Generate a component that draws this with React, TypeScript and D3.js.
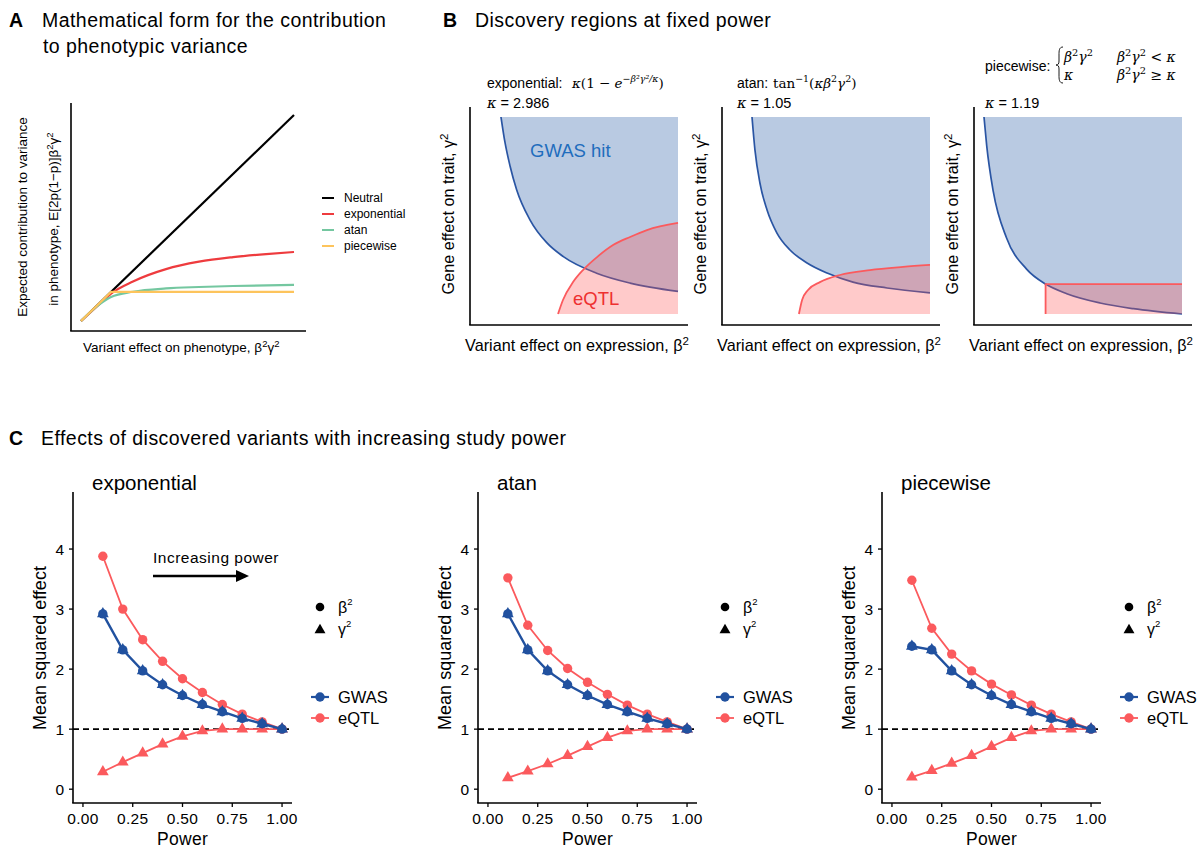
import React from 'react';
import * as d3 from 'd3';

const SANS = '"Liberation Sans", Arial, Helvetica, sans-serif';
const MATH = '"DejaVu Serif", "Liberation Serif", serif';

// ---------- Panel A data (x = β²γ², y = contribution) ----------
const aNeutral: [number, number][] = [[0, 0], [10, 10]];
const aExponential: [number, number][] = [[0, 0], [0.89, 0.84], [1.41, 1.33], [2.44, 1.92], [3.99, 2.52], [5.54, 2.88], [7.14, 3.1], [8.69, 3.25], [10, 3.35]];
const aAtan: [number, number][] = [[0, 0], [0.85, 0.8], [1.41, 1.17], [2.44, 1.42], [3.99, 1.58], [5.54, 1.65], [7.14, 1.7], [10, 1.75]];
const aPiecewise: [number, number][] = [[0, 0], [1.41, 1.41], [10, 1.41]];
const aSeriesNames = ['Neutral', 'exponential', 'atan', 'piecewise'];
const aSeriesColors = ['#000000', '#ee3b3e', '#74c7a0', '#fdc45c'];

// ---------- Panel B data (u = β², v = γ², normalised) ----------
const bExpGwas: [number, number][] = [[0.106, 1.0], [0.126, 0.872], [0.152, 0.75], [0.185, 0.631], [0.253, 0.477], [0.337, 0.362], [0.421, 0.291], [0.589, 0.207], [0.758, 0.157], [1.0, 0.115]];
const bExpEqtl: [number, number][] = [[0.394, 0], [0.419, 0.071], [0.47, 0.162], [0.52, 0.223], [0.591, 0.289], [0.672, 0.35], [0.758, 0.391], [0.843, 0.426], [1.0, 0.462]];
const bAtanGwas: [number, number][] = [[0.101, 1.0], [0.116, 0.832], [0.141, 0.665], [0.177, 0.528], [0.227, 0.411], [0.293, 0.325], [0.379, 0.259], [0.48, 0.208], [0.611, 0.162], [0.783, 0.132], [1.0, 0.107]];
const bAtanEqtl: [number, number][] = [[0.338, 0], [0.354, 0.071], [0.384, 0.122], [0.444, 0.162], [0.545, 0.198], [0.697, 0.223], [0.864, 0.239], [1.0, 0.249]];
const bPwGwas: [number, number][] = [[0.0, 1.0], [0.0135, 0.856], [0.047, 0.621], [0.114, 0.386], [0.215, 0.228], [0.311, 0.152], [0.418, 0.103], [0.586, 0.056], [0.754, 0.027], [1.0, 0.0]];
const bPwEqtl: [number, number][] = [[0.311, 0], [0.311, 0.152], [1.0, 0.152]];

// ---------- Panel C data ----------
const powerLevels = [0.1, 0.2, 0.3, 0.4, 0.5, 0.6, 0.7, 0.8, 0.9, 1.0];
const expGwas = [2.92, 2.32, 1.97, 1.74, 1.56, 1.41, 1.29, 1.18, 1.09, 1.0];
const expEqtlBeta = [3.88, 3.0, 2.49, 2.13, 1.84, 1.61, 1.41, 1.25, 1.12, 1.0];
const expEqtlGamma = [0.29, 0.45, 0.6, 0.75, 0.88, 0.97, 1.0, 1.0, 1.0, 1.0];
const atanGwas = [2.92, 2.32, 1.97, 1.74, 1.56, 1.41, 1.29, 1.18, 1.09, 1.0];
const atanEqtlBeta = [3.52, 2.73, 2.31, 2.01, 1.78, 1.58, 1.4, 1.25, 1.12, 1.0];
const atanEqtlGamma = [0.19, 0.3, 0.42, 0.56, 0.71, 0.86, 0.97, 1.0, 1.0, 1.0];
const pwGwas = [2.38, 2.32, 1.97, 1.74, 1.56, 1.41, 1.29, 1.18, 1.09, 1.0];
const pwEqtlBeta = [3.48, 2.68, 2.25, 1.97, 1.75, 1.57, 1.4, 1.25, 1.12, 1.0];
const pwEqtlGamma = [0.2, 0.31, 0.43, 0.56, 0.71, 0.86, 0.97, 1.0, 1.0, 1.0];
const cXTicks = [0, 0.25, 0.5, 0.75, 1.0];
const cYTicks = [0, 1, 2, 3, 4];

const GWAS_BLUE = '#21519f';
const EQTL_RED = '#fb5a5d';

// math text helper: items = [text, isSuperscript, upright]
function mathSpans(items: [string, boolean?, boolean?][], size: number) {
  let raised = false;
  const lift = size * 0.42;
  return items.map(([t, isSup, upright], i) => {
    let dy: number | undefined;
    if (isSup && !raised) { dy = -lift; raised = true; }
    else if (!isSup && raised) { dy = lift; raised = false; }
    return (
      <tspan key={i} dy={dy} fontSize={isSup ? size * 0.7 : size} fontStyle={upright ? 'normal' : 'italic'}>{t}</tspan>
    );
  });
}

function PanelA() {
  const x = d3.scaleLinear().domain([0, 10]).range([81, 294]);
  const y = d3.scaleLinear().domain([0, 10]).range([321, 115]);
  const smooth = d3.line<[number, number]>().x(d => x(d[0])).y(d => y(d[1])).curve(d3.curveMonotoneX);
  const straight = d3.line<[number, number]>().x(d => x(d[0])).y(d => y(d[1]));
  const series = [aNeutral, aExponential, aAtan, aPiecewise];
  return (
    <g>
      <text x={9} y={27} fontSize={19.5} fontWeight="bold">A</text>
      <text x={42} y={27} fontSize={19.5} letterSpacing={0.45}>Mathematical form for the contribution</text>
      <text x={43} y={53} fontSize={19.5} letterSpacing={0.45}>to phenotypic variance</text>
      <line x1={71} x2={71} y1={103} y2={331} stroke="#000" strokeWidth={1.6} />
      <line x1={70.2} x2={306} y1={331} y2={331} stroke="#000" strokeWidth={1.6} />
      {series.map((s, i) => (
        <path key={i} d={(i === 0 || i === 3 ? straight(s) : smooth(s)) || ''} fill="none" stroke={aSeriesColors[i]} strokeWidth={2.2} />
      ))}
      {aSeriesNames.map((n, i) => (
        <g key={n}>
          <line x1={322} x2={334} y1={198 + i * 16} y2={198 + i * 16} stroke={aSeriesColors[i]} strokeWidth={2} />
          <text x={344} y={202 + i * 16} fontSize={12}>{n}</text>
        </g>
      ))}
      <text transform="translate(27,217) rotate(-90)" textAnchor="middle" fontSize={13.5}>Expected contribution to variance</text>
      <text transform="translate(58,219) rotate(-90)" textAnchor="middle" fontSize={13.5}>
        in phenotype, E[2p(1−p)]β<tspan dy={-5.5} fontSize={9.5}>2</tspan><tspan dy={5.5}>γ</tspan><tspan dy={-5.5} fontSize={9.5}>2</tspan>
      </text>
      <text x={83} y={352} fontSize={13.5}>
        Variant effect on phenotype, β<tspan dy={-5.5} fontSize={9.5}>2</tspan><tspan dy={5.5}>γ</tspan><tspan dy={-5.5} fontSize={9.5}>2</tspan>
      </text>
    </g>
  );
}

function DiscoveryPlot({ ox, gwas, eqtl, step, header, labels }: any) {
  const x = d3.scaleLinear().domain([0, 1]).range([ox + 10, ox + 208]);
  const y = d3.scaleLinear().domain([0, 1]).range([314, 117]);
  const curve = step ? d3.curveLinear : d3.curveMonotoneX;
  const blueArea = d3.area<[number, number]>().x(d => x(d[0])).y0(y(1)).y1(d => y(d[1])).curve(d3.curveMonotoneX);
  const blueLine = d3.line<[number, number]>().x(d => x(d[0])).y(d => y(d[1])).curve(d3.curveMonotoneX);
  const redArea = d3.area<[number, number]>().x(d => x(d[0])).y0(y(0)).y1(d => y(d[1])).curve(curve);
  const redLine = d3.line<[number, number]>().x(d => x(d[0])).y(d => y(d[1])).curve(curve);
  const redFillPts = step ? eqtl.slice(1) : eqtl;
  return (
    <g>
      {header}
      <path d={blueArea(gwas) || ''} fill="#b9cae2" />
      <path d={blueLine(gwas) || ''} fill="none" stroke="#2a55a3" strokeWidth={1.7} />
      <path d={redArea(redFillPts) || ''} fill="rgba(255,80,80,0.3)" />
      <path d={redLine(eqtl) || ''} fill="none" stroke="#fb5a5d" strokeWidth={1.8} />
      <line x1={ox} x2={ox} y1={107} y2={325} stroke="#000" strokeWidth={1.6} />
      <line x1={ox - 0.8} x2={ox + 218} y1={325} y2={325} stroke="#000" strokeWidth={1.6} />
      {labels && <text x={530} y={157} fontSize={18.5} fill="#1f6dbd">GWAS hit</text>}
      {labels && <text x={573} y={305} fontSize={18.5} fill="#ee3030">eQTL</text>}
      <text transform={`translate(${ox - 16},214) rotate(-90)`} textAnchor="middle" fontSize={16.2}>
        Gene effect on trait, γ<tspan dy={-6.5} fontSize={11.5}>2</tspan>
      </text>
      <text x={ox + 107} y={351} textAnchor="middle" fontSize={16.2}>
        Variant effect on expression, β<tspan dy={-6.5} fontSize={11.5}>2</tspan>
      </text>
    </g>
  );
}

function PowerPlot({ ox, title, gwas, eqtlBeta, eqtlGamma, arrow }: any) {
  const x = d3.scaleLinear().domain([-0.05, 1.05]).range([ox, ox + 219]);
  const y = d3.scaleLinear().domain([-0.23, 4.95]).range([803, 492]);
  const line = d3.line<number>().x((_, i) => x(powerLevels[i])).y(d => y(d));
  const tri = d3.symbol().type(d3.symbolTriangle).size(60)() || '';
  const triLeg = d3.symbol().type(d3.symbolTriangle).size(52)() || '';
  return (
    <g>
      <text x={ox + 19} y={490} fontSize={20.5}>{title}</text>
      <line x1={ox} x2={ox} y1={492} y2={803} stroke="#000" strokeWidth={1.6} />
      <line x1={ox - 0.8} x2={ox + 219} y1={803} y2={803} stroke="#000" strokeWidth={1.6} />
      {cYTicks.map(t => (
        <g key={t}>
          <line x1={ox - 4} x2={ox} y1={y(t)} y2={y(t)} stroke="#000" strokeWidth={1.3} />
          <text x={ox - 9} y={y(t) + 5.5} textAnchor="end" fontSize={15.5}>{t}</text>
        </g>
      ))}
      {cXTicks.map(t => (
        <g key={t}>
          <line x1={x(t)} x2={x(t)} y1={803} y2={807} stroke="#000" strokeWidth={1.3} />
          <text x={x(t)} y={824} textAnchor="middle" fontSize={15.5} letterSpacing={0.3}>{t.toFixed(2)}</text>
        </g>
      ))}
      <text x={x(0.5)} y={845} textAnchor="middle" fontSize={17.5} letterSpacing={0.3}>Power</text>
      <text transform={`translate(${ox - 27},648) rotate(-90)`} textAnchor="middle" fontSize={18}>Mean squared effect</text>
      <line x1={ox} x2={ox + 219} y1={y(1)} y2={y(1)} stroke="#000" strokeWidth={1.6} strokeDasharray="6,4" />
      <path d={line(eqtlBeta) || ''} fill="none" stroke={EQTL_RED} strokeWidth={1.8} />
      <path d={line(eqtlGamma) || ''} fill="none" stroke={EQTL_RED} strokeWidth={1.8} />
      {eqtlBeta.map((v: number, i: number) => <circle key={'eb' + i} cx={x(powerLevels[i])} cy={y(v)} r={4.7} fill={EQTL_RED} />)}
      {eqtlGamma.map((v: number, i: number) => <path key={'eg' + i} d={tri} transform={`translate(${x(powerLevels[i])},${y(v)})`} fill={EQTL_RED} />)}
      <path d={line(gwas) || ''} fill="none" stroke={GWAS_BLUE} strokeWidth={2.4} />
      {gwas.map((v: number, i: number) => <circle key={'gb' + i} cx={x(powerLevels[i])} cy={y(v)} r={4.7} fill={GWAS_BLUE} />)}
      {gwas.map((v: number, i: number) => <path key={'gg' + i} d={tri} transform={`translate(${x(powerLevels[i])},${y(v)})`} fill={GWAS_BLUE} />)}
      {arrow && (
        <g>
          <text x={153} y={563} fontSize={15.5} letterSpacing={0.5}>Increasing power</text>
          <line x1={153} x2={239} y1={576} y2={576} stroke="#000" strokeWidth={2.5} />
          <path d="M236,570 L249,576 L236,582 Z" fill="#000" />
        </g>
      )}
      <circle cx={ox + 247} cy={607} r={4.3} fill="#000" />
      <text x={ox + 265} y={613} fontSize={16}>β<tspan dy={-8} fontSize={9.5}>2</tspan></text>
      <path d={triLeg} transform={`translate(${ox + 247},630)`} fill="#000" />
      <text x={ox + 265} y={635} fontSize={16}>γ<tspan dy={-8} fontSize={9.5}>2</tspan></text>
      <line x1={ox + 238} x2={ox + 256} y1={697} y2={697} stroke={GWAS_BLUE} strokeWidth={2.2} />
      <circle cx={ox + 247} cy={697} r={4.7} fill={GWAS_BLUE} />
      <text x={ox + 265} y={703} fontSize={16.5}>GWAS</text>
      <line x1={ox + 238} x2={ox + 256} y1={718} y2={718} stroke={EQTL_RED} strokeWidth={1.8} />
      <circle cx={ox + 247} cy={718} r={4.7} fill={EQTL_RED} />
      <text x={ox + 265} y={724} fontSize={16.5}>eQTL</text>
    </g>
  );
}

export default function App() {
  const expHeader = (
    <g>
      <text x={487} y={88} fontSize={14}>exponential:</text>
      <text x={572} y={88} fontFamily={MATH}>
        {mathSpans([['κ'], ['(1 − ', false, true], ['e'], ['−β²γ²/κ', true], [')', false, true]], 13.5)}
      </text>
      <text x={487} y={108} fontSize={14.5}><tspan fontFamily={MATH} fontStyle="italic">κ</tspan> = 2.986</text>
    </g>
  );
  const atanHeader = (
    <g>
      <text x={737} y={88} fontSize={14}>atan:</text>
      <text x={773} y={88} fontFamily={MATH}>
        {mathSpans([['tan', false, true], ['−1', true, true], ['(', false, true], ['κβ'], ['2', true, true], ['γ'], ['2', true, true], [')', false, true]], 13.5)}
      </text>
      <text x={737} y={108} fontSize={14.5}><tspan fontFamily={MATH} fontStyle="italic">κ</tspan> = 1.05</text>
    </g>
  );
  const pwHeader = (
    <g>
      <text x={985} y={71} fontSize={14}>piecewise:</text>
      <path d="M1063,47 C1059,47 1059,51 1059,55 L1059,61 C1059,64 1058,65 1056,65 C1058,65 1059,66 1059,69 L1059,75 C1059,79 1059,83 1063,83" fill="none" stroke="#000" strokeWidth={0.9} />
      <text x={1064} y={62} fontFamily={MATH}>{mathSpans([['β'], ['2', true, true], ['γ'], ['2', true, true]], 14)}</text>
      <text x={1117} y={62} fontFamily={MATH}>{mathSpans([['β'], ['2', true, true], ['γ'], ['2', true, true], [' < ', false, true], ['κ']], 14)}</text>
      <text x={1064} y={80} fontFamily={MATH}>{mathSpans([['κ']], 14)}</text>
      <text x={1117} y={80} fontFamily={MATH}>{mathSpans([['β'], ['2', true, true], ['γ'], ['2', true, true], [' ≥ ', false, true], ['κ']], 14)}</text>
      <text x={985} y={108} fontSize={14.5}><tspan fontFamily={MATH} fontStyle="italic">κ</tspan> = 1.19</text>
    </g>
  );
  return (
    <svg width={1198} height={848} style={{ position: 'absolute', left: 0, top: 0 }} fontFamily={SANS}>
      <rect width={1198} height={848} fill="#fff" />
      <PanelA />
      <text x={443} y={27} fontSize={19.5} fontWeight="bold">B</text>
      <text x={475} y={27} fontSize={19.5} letterSpacing={0.45}>Discovery regions at fixed power</text>
      <DiscoveryPlot ox={470} gwas={bExpGwas} eqtl={bExpEqtl} header={expHeader} labels />
      <DiscoveryPlot ox={722} gwas={bAtanGwas} eqtl={bAtanEqtl} header={atanHeader} />
      <DiscoveryPlot ox={974} gwas={bPwGwas} eqtl={bPwEqtl} step header={pwHeader} />
      <text x={9} y={445} fontSize={19.5} fontWeight="bold">C</text>
      <text x={41} y={445} fontSize={19.5} letterSpacing={0.45}>Effects of discovered variants with increasing study power</text>
      <PowerPlot ox={73} title="exponential" gwas={expGwas} eqtlBeta={expEqtlBeta} eqtlGamma={expEqtlGamma} arrow />
      <PowerPlot ox={478} title="atan" gwas={atanGwas} eqtlBeta={atanEqtlBeta} eqtlGamma={atanEqtlGamma} />
      <PowerPlot ox={882} title="piecewise" gwas={pwGwas} eqtlBeta={pwEqtlBeta} eqtlGamma={pwEqtlGamma} />
    </svg>
  );
}
